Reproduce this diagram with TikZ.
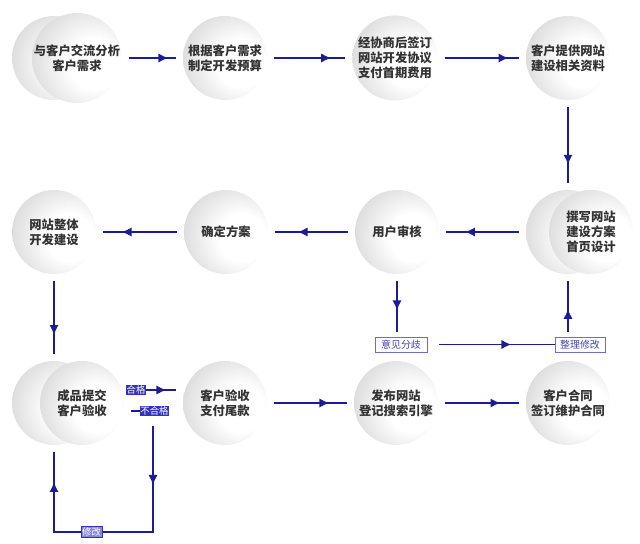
\documentclass[tikz,border=0pt]{standalone}
\usepackage{fontspec}
\newfontfamily\cjk{Noto Sans CJK SC}
\usepackage{tikz}
\usetikzlibrary{arrows.meta}
\usetikzlibrary{decorations.markings}
\usetikzlibrary{calc}
\definecolor{flowblue}{RGB}{28,28,150}
\definecolor{tagline}{RGB}{110,110,200}
\definecolor{tagtext}{RGB}{70,70,170}
\definecolor{tagfill}{RGB}{50,50,190}
\definecolor{softfill}{RGB}{135,135,215}
\pgfdeclareradialshading{disk}{\pgfpoint{12bp}{-4bp}}{color(0bp)=(white); color(14bp)=(white); color(50bp)=(black!26); color(72bp)=(black!34)}
\tikzstyle{bubble}=[circle,shade,shading=disk,minimum size=2.52cm,inner sep=0pt,outer sep=0.21cm,align=center,font=\cjk\bfseries\fontsize{10.5}{13}\selectfont,text=black!80]
\tikzstyle{link}=[draw,color=flowblue,line width=1.6pt]
\tikzstyle{tag}=[draw=tagline,fill=white,text=tagtext,line width=0.6pt,font=\cjk\fontsize{8.5}{10}\selectfont,inner sep=0pt,minimum height=0.45cm]
\tikzstyle{bluetag}=[fill=tagfill,text=white,font=\cjk\fontsize{8}{8}\selectfont,inner sep=0.6pt]
\tikzstyle{softtag}=[fill=softfill,draw=tagfill,line width=0.4pt,text=white,font=\cjk\fontsize{8}{8}\selectfont,inner sep=0.8pt]
\tikzset{flow/.style={link,postaction={decorate,decoration={markings,mark=at position #1 with {\arrow{Latex[length=0.3cm,width=0.28cm]}}}}},
  flow/.default=0.75}

\begin{document}
\begin{tikzpicture}[x=0.03cm,y=-0.03cm]
\useasboundingbox (0,0) rectangle (640,544);

    % back discs of the double bubbles
    \foreach \pos/\name in {{(54,58)/c1b}, {(568,232)/c5b}, {(54,403)/c9b}}
        \node[bubble] (\name) at \pos {};

    % the steps
    \foreach \pos/\name/\label in {{(77,58)/c1/{与客户交流分析\\客户需求}}, {(225,58)/c2/{根据客户需求\\制定开发预算}}, {(395,58)/c3/{经协商后签订\\网站开发协议\\支付首期费用}}, {(568,58)/c4/{客户提供网站\\建设相关资料}}}
        \node[bubble] (\name) at \pos {\label};
    \foreach \pos/\name/\label in {{(591,232)/c5/{撰写网站\\建设方案\\首页设计}}, {(397,232)/c6/{用户审核}}, {(226,232)/c7/{确定方案}}, {(54,232)/c8/{网站整体\\开发建设}}}
        \node[bubble] (\name) at \pos {\label};
    \foreach \pos/\name/\label in {{(82,403)/c9/{成品提交\\客户验收}}, {(225,403)/c10/{客户验收\\支付尾款}}, {(396,403)/c11/{发布网站\\登记搜索引擎}}, {(568,403)/c12/{客户合同\\签订维护合同}}}
        \node[bubble] (\name) at \pos {\label};

    % main flow
    \foreach \source/\dest/\where in {c1/c2/0.84, c2/c3/0.8, c3/c4/0.86, c4/c5b/0.76, c5b/c6/0.74, c6/c7/0.69, c7/c8/0.75, c8/c9b/0.74, c10/c11/0.76, c11/c12/0.75}
        \path[flow=\where] (\source) -- (\dest);

    % review loop
    \node[tag,minimum width=1.56cm] (yijian) at (401,344.5) {意见分歧};
    \node[tag,minimum width=1.5cm] (zhengli) at (580,344.5) {整理修改};
    \path[flow=0.53,shorten >=0.15cm] (c6) -- (c6 |- yijian.north);
    \path[flow=0.66,shorten <=0.36cm] (yijian) -- (zhengli);
    \path[flow=0.5,shorten <=0.15cm] (zhengli.north -| c5b) -- (c5b);

    % acceptance
    \node[bluetag] (hege) at (136,390) {合格};
    \node[bluetag] (buhege) at (154.5,411) {不合格};
    \path[flow=0.68] (hege) -- (hege -| c10.west);
    \path[link] (c9.east |- buhege) -- (buhege);
    \coordinate (fail) at (153,426);
    \coordinate (down) at (153,532);
    \coordinate (back) at (54,532);
    \path[flow=0.207,flow=0.895] (fail) -- (down) -- node[softtag,pos=0.62] (xiugai) {修改} (back) -- (c9b);

\end{tikzpicture}
\end{document}
